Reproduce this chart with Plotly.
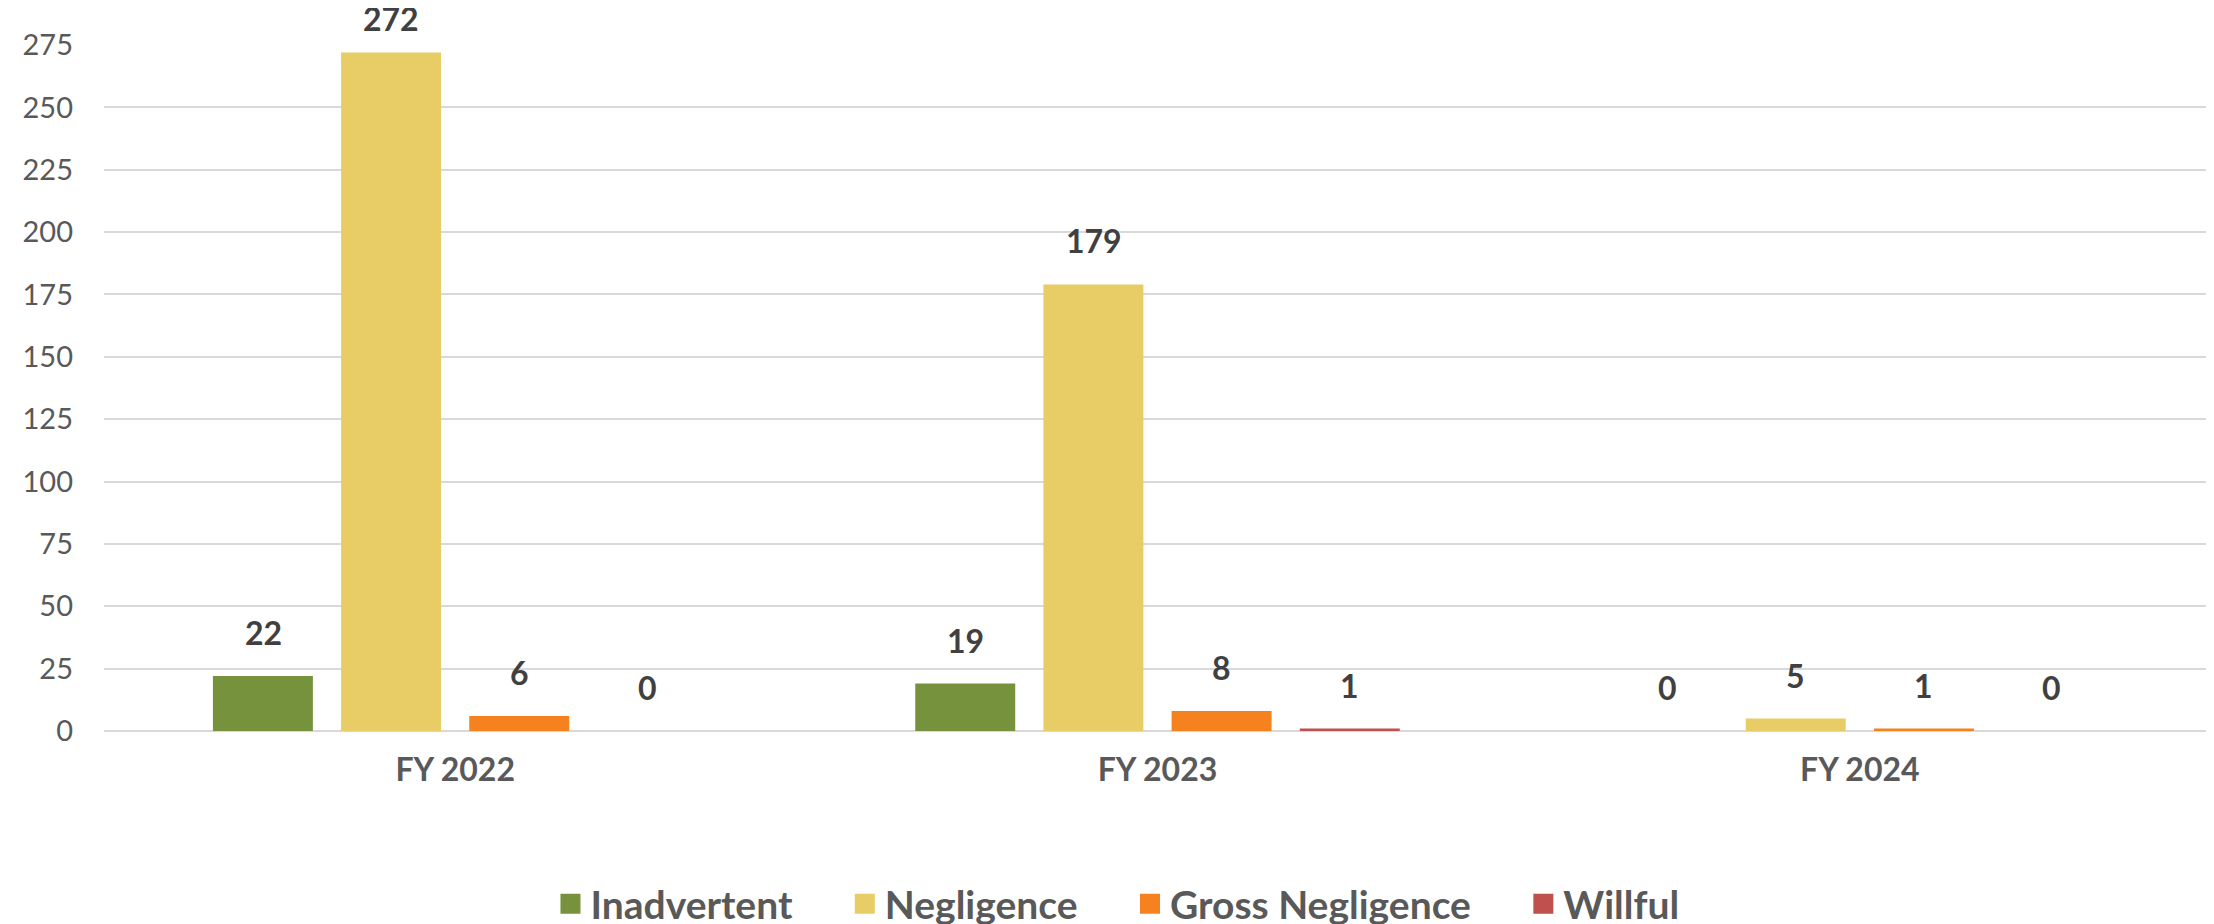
import plotly.graph_objects as go

categories = ["FY 2022", "FY 2023", "FY 2024"]
series_names = ["Inadvertent", "Negligence", "Gross Negligence", "Willful"]
inadvertent = [22, 19, 0]
negligence = [272, 179, 5]
gross_negligence = [6, 8, 1]
willful = [0, 1, 0]
y_ticks = list(range(0, 276, 25))

series_values = [inadvertent, negligence, gross_negligence, willful]
colors = ["#77923C", "#E8CC66", "#F5821E", "#C0504D"]
label_xshift = [-192, -64, 64, 192]

FONT = "Lato"
W, H = 2214, 924
M = dict(l=96, r=11, t=37, b=201)
Y_MAX = 275
px_per_unit = (H - M["t"] - M["b"]) / Y_MAX
LEGEND_PAD = "\u00a0" * 5

fig = go.Figure()
for name, vals, col in zip(series_names, series_values, colors):
    fig.add_trace(go.Bar(name=name, x=categories, y=vals, showlegend=False,
                         marker=dict(color=col, line=dict(width=0))))
# legend entries with larger square swatches
for i, (name, col) in enumerate(zip(series_names, colors)):
    label = name + (LEGEND_PAD if i < len(series_names) - 1 else "")
    fig.add_trace(go.Scatter(name=label, x=[None], y=[None], mode="markers", showlegend=True,
                             marker=dict(symbol="square", size=16, color=col, line=dict(color=col, width=4))))

for vals, dx in zip(series_values, label_xshift):
    for cat, v in zip(categories, vals):
        # keep the label inside the canvas (like the original, the tallest label is pushed down)
        top_room = M["t"] + (Y_MAX - v) * px_per_unit - 32
        ys = min(22, max(0, top_room))
        fig.add_annotation(x=cat, y=v, xref="x", yref="y", text=f"<b>{v}</b>", showarrow=False,
                           xshift=dx, yshift=ys, yanchor="bottom",
                           font=dict(family=FONT, size=32, color="#404040"))

fig.update_layout(
    width=W, height=H, autosize=False,
    barmode="group", bargap=0.27, bargroupgap=0.22,
    plot_bgcolor="white", paper_bgcolor="white",
    margin=dict(**M, autoexpand=False),
    font=dict(family=FONT, color="#595959"),
    legend=dict(orientation="h", x=0.481, xanchor="center", y=-0.252, yanchor="middle",
                font=dict(family=FONT, size=39, color="#595959", weight="bold"),
                tracegroupgap=0, itemsizing="trace"),
)
fig.update_yaxes(range=[0, Y_MAX], tickvals=y_ticks, showgrid=True, gridcolor="#D9D9D9", gridwidth=2,
                 zeroline=True, zerolinecolor="#D9D9D9", zerolinewidth=2, showline=False,
                 tickfont=dict(family=FONT, size=29, color="#595959"), ticklabelstandoff=30)
fig.update_xaxes(showgrid=False, showline=False,
                 tickfont=dict(family=FONT, size=32, color="#595959", weight="bold"), ticklabelstandoff=17)

fig.write_html("out.html")
